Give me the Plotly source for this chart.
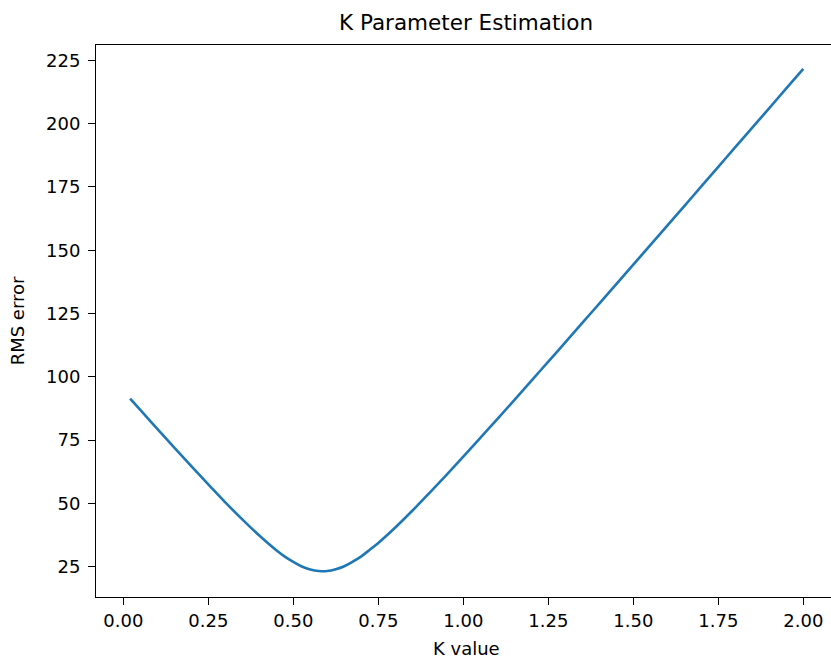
import plotly.graph_objects as go

# K values swept during the fit and the resulting RMS error
k_values = [0.02, 0.05, 0.10, 0.15, 0.20, 0.25, 0.30, 0.35, 0.40, 0.45,
            0.475, 0.50, 0.525, 0.55, 0.575, 0.60, 0.625, 0.65, 0.675, 0.70,
            0.725, 0.75, 0.80, 0.85, 0.90, 0.95,
            1.00, 1.05, 1.10, 1.15, 1.20, 1.25, 1.30, 1.35, 1.40, 1.45,
            1.50, 1.55, 1.60, 1.65, 1.70, 1.75, 1.80, 1.85, 1.90, 1.95, 2.00]
rms_error = [91.4, 86.9, 79.4, 72.0, 64.7, 57.5, 50.4, 43.7, 37.3, 31.5,
             29.0, 26.9, 25.1, 23.9, 23.3, 23.3, 24.0, 25.2, 27.0, 29.1,
             31.7, 34.4, 40.5, 47.1, 54.1, 61.2,
             68.5, 75.9, 83.3, 90.8, 98.4, 106.0, 113.6, 121.3, 128.9, 136.6,
             144.3, 152.0, 159.7, 167.4, 175.2, 182.9, 190.7, 198.4, 206.1, 213.9, 221.6]

x_ticks = [0.0, 0.25, 0.5, 0.75, 1.0, 1.25, 1.5, 1.75, 2.0]
x_tick_text = ["0.00", "0.25", "0.50", "0.75", "1.00", "1.25", "1.50", "1.75", "2.00"]
y_ticks = [25, 50, 75, 100, 125, 150, 175, 200, 225]
y_tick_text = [str(v) for v in y_ticks]

FONT = "DejaVu Sans"

fig = go.Figure()
fig.add_trace(go.Scatter(
    x=k_values, y=rms_error, mode="lines",
    line=dict(color="#1f77b4", width=2.6, shape="spline", smoothing=1.0),
    showlegend=False, hoverinfo="skip",
))

axis_common = dict(
    showgrid=False, zeroline=False,
    showline=True, linecolor="black", linewidth=1,
    ticks="outside", ticklen=7, tickwidth=1, tickcolor="black",
    tickfont=dict(family=FONT, size=18, color="black"),
)

fig.update_layout(
    width=831, height=663,
    margin=dict(l=96, r=0, t=45, b=66),
    paper_bgcolor="white", plot_bgcolor="white",
    xaxis=dict(range=[-0.0803, 2.0815], tickvals=x_ticks, ticktext=x_tick_text,
               mirror=True, **axis_common),
    yaxis=dict(range=[13.04, 231.04], tickvals=y_ticks, ticktext=y_tick_text,
               mirror=False, ticklabelstandoff=4, **axis_common),
    annotations=[
        dict(text="K Parameter Estimation", xref="paper", yref="paper",
             x=0.504, y=1.015, xanchor="center", yanchor="bottom", showarrow=False,
             font=dict(family=FONT, size=21.5, color="black")),
        dict(text="K value", xref="paper", yref="paper",
             x=0.504, y=-0.0924, xanchor="center", yanchor="middle", showarrow=False,
             font=dict(family=FONT, size=18, color="black")),
        dict(text="RMS error", xref="paper", yref="paper",
             x=-0.1070, y=0.5, xanchor="center", yanchor="middle", showarrow=False,
             textangle=-90, font=dict(family=FONT, size=18, color="black")),
    ],
)

fig.write_html("out.html")
